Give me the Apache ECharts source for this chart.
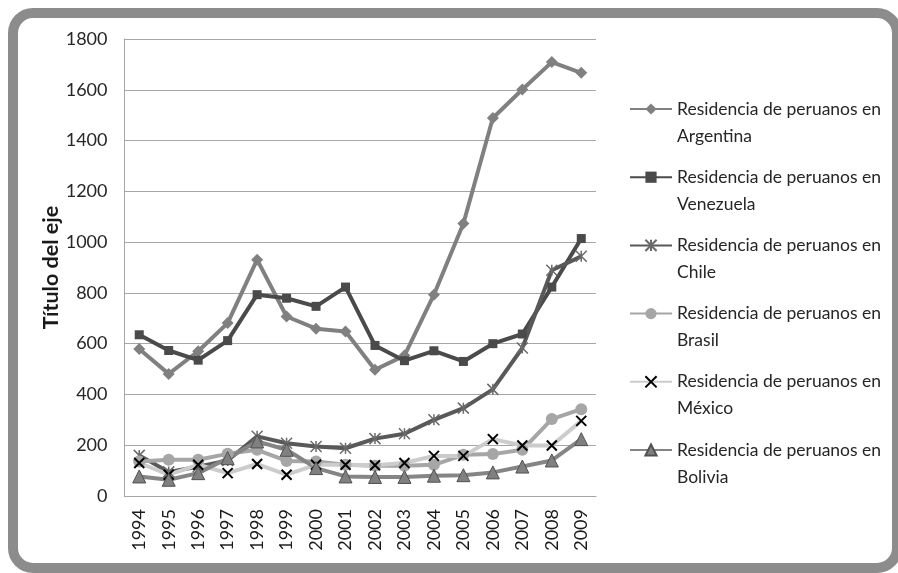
<!DOCTYPE html>
<html>
<head>
<meta charset="utf-8">
<script src="https://cdn.jsdelivr.net/npm/echarts@6/dist/echarts.min.js"></script>
<style>
html,body{margin:0;padding:0;background:#fff;}
#main{width:898px;height:573px;}
</style>
</head>
<body>
<div id="main"></div>
<script>
var years = ['1994','1995','1996','1997','1998','1999','2000','2001','2002','2003','2004','2005','2006','2007','2008','2009'];
var seriesNames = ['Residencia de peruanos en Argentina','Residencia de peruanos en Venezuela','Residencia de peruanos en Chile','Residencia de peruanos en Brasil','Residencia de peruanos en México','Residencia de peruanos en Bolivia'];
var argentina = [579, 481, 570, 681, 931, 707, 659, 648, 497, 553, 793, 1073, 1489, 1601, 1709, 1667];
var venezuela = [635, 573, 535, 612, 793, 779, 747, 823, 593, 533, 572, 530, 600, 638, 823, 1014];
var chile     = [160, 95, 115, 140, 235, 208, 195, 188, 226, 245, 300, 346, 420, 583, 889, 944];
var brasil    = [136, 143, 143, 166, 182, 138, 136, 123, 119, 119, 123, 162, 165, 182, 303, 342];
var mexico    = [130, 84, 123, 90, 126, 84, 123, 123, 121, 130, 158, 158, 224, 199, 199, 296];
var bolivia   = [77, 64, 90, 149, 215, 182, 110, 77, 75, 75, 80, 82, 93, 116, 140, 224];
var yTicks = {min: 0, max: 1800, interval: 200};

var chart = echarts.init(document.getElementById('main'), null, {renderer: 'canvas'});
var font = 'Lato, "Open Sans", sans-serif';

function mk(name, data, opt) {
  return Object.assign({
    name: name,
    type: 'line',
    data: data,
    showAllSymbol: true,
    animation: false
  }, opt);
}

var option = {
  animation: false,
  backgroundColor: '#ffffff',
  graphic: {
    elements: [{
      type: 'rect',
      silent: true,
      shape: {x: 13, y: 13, width: 884, height: 555, r: 20},
      style: {fill: 'none', stroke: '#8c8c8c', lineWidth: 10}
    }]
  },
  grid: {left: 124.5, right: 302, top: 39, bottom: 77, containLabel: false},
  legend: {
    orient: 'vertical',
    left: 629,
    top: 68.5,
    padding: 0,
    itemWidth: 42,
    itemHeight: 14,
    itemGap: -12.8,
    data: seriesNames,
    formatter: function (n) { return '\n' + n.replace(' en ', ' en\n'); },
    textStyle: {fontFamily: font, fontSize: 17.5, color: '#262626', lineHeight: 27}
  },
  xAxis: {
    type: 'category',
    data: years,
    boundaryGap: true,
    axisLine: {lineStyle: {color: '#a6a6a6', width: 1}},
    axisTick: {show: false},
    axisLabel: {rotate: 90, margin: 13, fontFamily: font, fontSize: 18, color: '#1a1a1a', interval: 0}
  },
  yAxis: {
    type: 'value',
    min: yTicks.min,
    max: yTicks.max,
    interval: yTicks.interval,
    name: 'Título del eje',
    nameLocation: 'middle',
    nameRotate: 90,
    nameGap: 62,
    nameMoveOverlap: false,
    nameTextStyle: {fontFamily: font, fontWeight: 'bold', fontSize: 21.5, color: '#1a1a1a'},
    axisLine: {show: true, lineStyle: {color: '#a6a6a6', width: 1}},
    axisTick: {show: false},
    axisLabel: {margin: 17, fontFamily: font, fontSize: 18, color: '#262626', formatter: function (v) { return String(v); }},
    splitLine: {lineStyle: {color: '#a6a6a6', width: 1}}
  },
  series: [
    mk(seriesNames[0], argentina, {
      symbol: 'diamond', symbolSize: 12,
      lineStyle: {color: '#808080', width: 4},
      itemStyle: {color: '#808080'}
    }),
    mk(seriesNames[1], venezuela, {
      symbol: 'rect', symbolSize: 9,
      lineStyle: {color: '#4a4a4a', width: 4},
      itemStyle: {color: '#4a4a4a'}
    }),
    mk(seriesNames[2], chile, {
      symbol: 'path://M0,-5L0,5M-5,-5L5,5M-5,5L5,-5', symbolSize: 11,
      lineStyle: {color: '#595959', width: 4},
      itemStyle: {color: '#595959', borderColor: '#6a6a6a', borderWidth: 1.5}
    }),
    mk(seriesNames[3], brasil, {
      symbol: 'circle', symbolSize: 12,
      lineStyle: {color: '#a6a6a6', width: 4},
      itemStyle: {color: '#a6a6a6'}
    }),
    mk(seriesNames[4], mexico, {
      symbol: 'path://M-5,-5L5,5M-5,5L5,-5', symbolSize: 10,
      lineStyle: {color: '#cccccc', width: 4},
      itemStyle: {color: '#000000', borderColor: '#000000', borderWidth: 2}
    }),
    mk(seriesNames[5], bolivia, {
      symbol: 'triangle', symbolSize: 13,
      lineStyle: {color: '#858585', width: 4},
      itemStyle: {color: '#808080', borderColor: '#505050', borderWidth: 1}
    })
  ]
};
chart.setOption(option);
</script>
</body>
</html>
